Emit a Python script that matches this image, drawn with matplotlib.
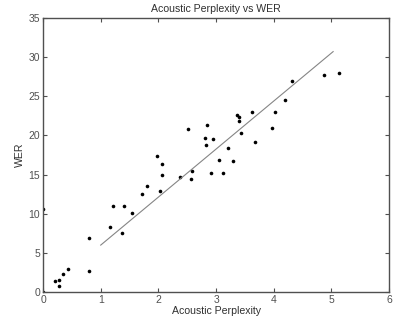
import matplotlib
matplotlib.use("Agg")
import matplotlib.pyplot as plt
import numpy as np

# valeurs
perplexity = [0.0, 0.0, 0.20, 0.28, 0.28, 0.34, 0.43, 0.80, 0.80, 1.16, 1.21, 1.37,
              1.40, 1.55, 1.72, 1.81, 1.98, 2.03, 2.07, 2.07, 2.38, 2.51, 2.56, 2.59,
              2.80, 2.83, 2.84, 2.92, 2.94, 3.05, 3.12, 3.21, 3.30, 3.36, 3.39, 3.40,
              3.43, 3.62, 3.67, 3.97, 4.03, 4.19, 4.32, 4.87, 5.14]
wer = [10.6, 0.0, 1.4, 1.6, 0.8, 2.3, 2.9, 6.9, 2.7, 8.3, 11.0, 7.5,
       11.0, 10.1, 12.5, 13.5, 17.4, 12.9, 16.3, 14.9, 14.7, 20.8, 14.4, 15.4,
       19.7, 18.8, 21.3, 15.2, 19.6, 16.9, 15.2, 18.4, 16.7, 22.6, 22.4, 21.8,
       20.3, 23.0, 19.2, 20.9, 23.0, 24.5, 26.9, 27.7, 28.0]

# droite de regression (extremites)
fit_x = [1.0, 5.03]
fit_y = [6.0, 30.7]

plt.rcParams['font.family'] = ['Liberation Sans', 'DejaVu Sans']

fig = plt.figure(figsize=(3.95, 3.26), dpi=100)
ax = fig.add_axes([0.109, 0.104, 0.876, 0.841])

ax.plot(perplexity, wer, 'o', color='black', markersize=2.6, markeredgewidth=0)
ax.plot(fit_x, fit_y, '-', color='#858585', linewidth=0.8)

ax.set_xlim(0, 6)
ax.set_ylim(0, 35)
ax.set_xticks(np.arange(0, 7, 1))
ax.set_yticks(np.arange(0, 40, 5))
ax.tick_params(direction='in', top=True, right=True, length=3, width=0.8,
               labelsize=7.5, colors='#505050', pad=2)
for s in ax.spines.values():
    s.set_color('#505050')
    s.set_linewidth(1.0)

ax.set_title('Acoustic Perplexity vs WER', fontsize=7.6, color='#303030', pad=4)
ax.set_xlabel('Acoustic Perplexity', fontsize=7.6, color='#303030', labelpad=1)
ax.set_ylabel('WER', fontsize=7.6, color='#303030', labelpad=3)

fig.savefig('out.png', dpi=100)
